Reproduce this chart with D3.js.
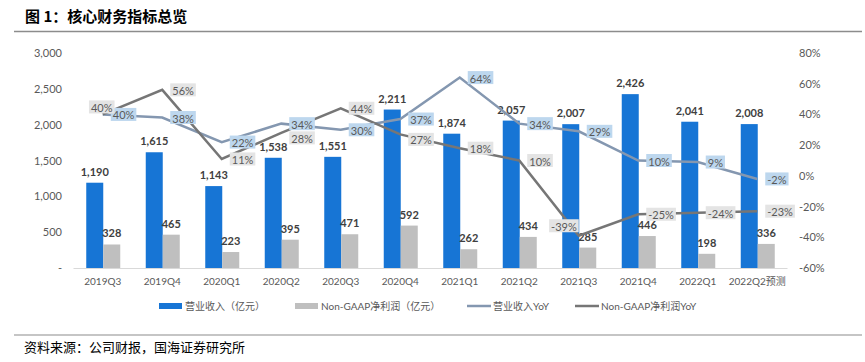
<!DOCTYPE html>
<html><head><meta charset="utf-8">
<script src="https://cdn.jsdelivr.net/npm/d3@7"></script>
<style>
body{margin:0;background:#fff;}
svg{display:block;font-family:Lato,"Noto Sans CJK SC",sans-serif;}
</style></head>
<body><svg id="c" width="865" height="362"></svg>
<script>
const categories = ["2019Q3","2019Q4","2020Q1","2020Q2","2020Q3","2020Q4","2021Q1","2021Q2","2021Q3","2021Q4","2022Q1","2022Q2预测"];
const revenue = [1190,1615,1143,1538,1551,2211,1874,2057,2007,2426,2041,2008];
const nonGaap = [328,465,223,395,471,592,262,434,285,446,198,336];
const revenueYoY = [40,38,22,34,30,37,64,34,29,10,9,-2];
const nonGaapYoY = [40,56,11,28,44,27,18,10,-39,-25,-24,-23];
const leftTicks = [0,500,1000,1500,2000,2500,3000];
const rightTicks = [-60,-40,-20,0,20,40,60,80];
const nonGaapLabelPlace = ["above","right","right","rightBelow","right","rightBelow","right","right","leftAbove","right","right","right"];

const svg = d3.select("#c");
const C = {blue:"#1775d5", gray:"#bfbfbf", line1:"#8497b0", line2:"#767676", text:"#595959", dark:"#404040"};

// title
svg.append("text").attr("x",25).attr("y",22).attr("font-size",15).attr("font-weight","bold")
  .attr("fill","#000").attr("font-family","'Noto Sans CJK SC',sans-serif").text("图 1：核心财务指标总览");
svg.append("line").attr("x1",14).attr("x2",862).attr("y1",31.5).attr("y2",31.5).attr("stroke","#8c8c8c").attr("stroke-width",1.5);

const x = d3.scaleBand().domain(categories).range([73,787]);
const yL = d3.scaleLinear().domain([0,3000]).range([268,53]);
const yR = d3.scaleLinear().domain([-60,80]).range([268,53]);
const bw = 17;

// left axis
const la = svg.append("g").attr("transform","translate(65,0)")
  .call(d3.axisLeft(yL).tickValues(leftTicks).tickSize(0).tickPadding(3)
    .tickFormat(d=> d===0 ? "-" : d3.format(",")(d)));
la.select(".domain").remove();
la.selectAll("text").attr("font-size",11).attr("fill",C.text).attr("font-family","Lato,sans-serif");

// right axis
const ra = svg.append("g").attr("transform","translate(797,0)")
  .call(d3.axisRight(yR).tickValues(rightTicks).tickSize(0).tickPadding(2).tickFormat(d=>d+"%"));
ra.select(".domain").remove();
ra.selectAll("text").attr("font-size",11).attr("fill",C.text).attr("font-family","Lato,sans-serif");

// x axis
const xa = svg.append("g").attr("transform","translate(0,268)")
  .call(d3.axisBottom(x).tickSize(0).tickPadding(10));
xa.select(".domain").attr("stroke","#d9d9d9").attr("stroke-width",1);
xa.selectAll("text").attr("font-size",10).attr("fill",C.text).attr("font-family","Lato,'Noto Sans CJK SC',sans-serif");

const cx = d => x(d) + x.bandwidth()/2;

// bars
svg.append("g").selectAll("rect").data(categories).join("rect")
  .attr("x",(d)=>cx(d)-bw+0.5).attr("width",bw).attr("y",(d,i)=>yL(revenue[i])).attr("height",(d,i)=>268-yL(revenue[i])).attr("fill",C.blue);
svg.append("g").selectAll("rect").data(categories).join("rect")
  .attr("x",(d)=>cx(d)+0.5).attr("width",bw).attr("y",(d,i)=>yL(nonGaap[i])).attr("height",(d,i)=>268-yL(nonGaap[i])).attr("fill",C.gray);

// bar labels
svg.append("g").selectAll("text").data(categories).join("text")
  .attr("x",d=>cx(d)-bw/2+0.5).attr("y",(d,i)=>yL(revenue[i])-7).attr("text-anchor","middle")
  .attr("font-size",11).attr("font-weight","bold").attr("fill",C.dark).text((d,i)=>d3.format(",")(revenue[i]));
svg.append("g").selectAll("text").data(categories).join("text")
  .attr("x",d=>cx(d)+bw/2+0.5).attr("y",(d,i)=>yL(nonGaap[i])-7).attr("text-anchor","middle")
  .attr("font-size",11).attr("font-weight","bold").attr("fill",C.dark).text((d,i)=>d3.format(",")(nonGaap[i]));

// lines
const line = (arr)=> d3.line().x((d,i)=>cx(categories[i])).y(d=>yR(d))(arr);
svg.append("path").attr("d",line(revenueYoY)).attr("fill","none").attr("stroke",C.line1).attr("stroke-width",2.5);
svg.append("path").attr("d",line(nonGaapYoY)).attr("fill","none").attr("stroke",C.line2).attr("stroke-width",2.5);

// line labels
function drawLabels(arr, fill, places){
  const g = svg.append("g");
  arr.forEach((v,i)=>{
    const px = cx(categories[i]), py = yR(v);
    const t = v+"%";
    const lg = g.append("g");
    const txt = lg.append("text").attr("font-size",11).attr("fill",C.text).attr("dominant-baseline","central").text(t);
    const w = txt.node().getComputedTextLength() + 4, h = 13;
    let bx, by;
    const p = places ? places[i] : "right";
    if(p==="right"){ bx = px+8; by = py-h/2; }
    else if(p==="rightBelow"){ bx = px+8; by = py-h/2+5; }
    else if(p==="above"){ bx = px-w/2-1; by = py-h-1; }
    else if(p==="leftAbove"){ bx = px-w; by = py-h/2-10; }
    lg.insert("rect","text").attr("x",bx).attr("y",by).attr("width",w).attr("height",h).attr("fill",fill);
    txt.attr("x",bx+2).attr("y",by+h/2+0.5);
  });
}
drawLabels(revenueYoY,"#bdd7ee",null);
drawLabels(nonGaapYoY,"#e4e4e4",nonGaapLabelPlace);

// legend
const legend = [
  {t:"营业收入（亿元）", type:"rect", c:C.blue, x:159},
  {t:"Non-GAAP净利润（亿元）", type:"rect", c:C.gray, x:295},
  {t:"营业收入YoY", type:"line", c:C.line1, x:467},
  {t:"Non-GAAP净利润YoY", type:"line", c:C.line2, x:575}
];
const lgG = svg.append("g");
legend.forEach(l=>{
  if(l.type==="rect") lgG.append("rect").attr("x",l.x).attr("y",303).attr("width",23).attr("height",6).attr("fill",l.c);
  else lgG.append("line").attr("x1",l.x).attr("x2",l.x+24).attr("y1",306).attr("y2",306).attr("stroke",l.c).attr("stroke-width",2.5);
  lgG.append("text").attr("x",l.x+26).attr("y",306).attr("dominant-baseline","central").attr("font-size",10)
    .attr("fill",C.text).attr("font-family","Lato,'Noto Sans CJK SC',sans-serif").text(l.t);
});

// footer
svg.append("line").attr("x1",14).attr("x2",862).attr("y1",335).attr("y2",335).attr("stroke","#8c8c8c").attr("stroke-width",1.2);
svg.append("text").attr("x",24).attr("y",352).attr("font-size",13).attr("fill","#000")
  .attr("font-family","'Noto Sans CJK SC',sans-serif").text("资料来源：公司财报，国海证券研究所");
</script></body></html>
